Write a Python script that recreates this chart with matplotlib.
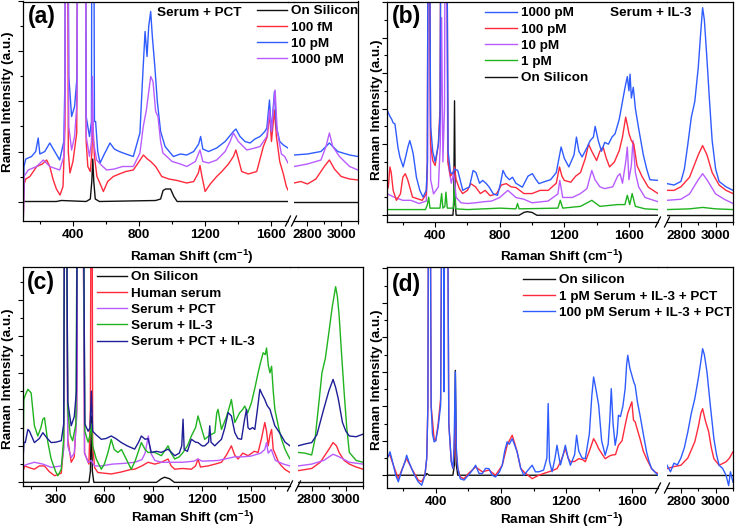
import matplotlib
matplotlib.use('Agg')
import matplotlib.pyplot as plt
from matplotlib.ticker import MultipleLocator, NullFormatter
import numpy as np

plt.rcParams.update({
    'font.family': ['Liberation Sans', 'DejaVu Sans'],
    'font.weight': 'bold',
    'font.size': 9.7,
    'axes.labelweight': 'bold',
    'mathtext.fontset': 'custom',
    'mathtext.rm': 'Liberation Sans:bold',
    'mathtext.bf': 'Liberation Sans:bold',
    'mathtext.default': 'bf',
})

W, H = 736, 529

# colours
C_BLACK = '#111111'
C_RED = '#ff2a3c'
C_BLUE = '#2f5cff'
C_PURPLE = '#b85cff'
C_GREEN = '#1fb31f'
C_NAVY = '#1e1e96'

# ---------------- panel (a): Serum + PCT ----------------
a_black_x = [100, 300, 330, 480, 505, 514, 520, 526, 535, 560, 900, 930, 945, 960, 990, 1010, 1030, 1700,
             2720, 3100]
a_black_y = [0.0, 0.0, 0.02, 0.0, 0.05, 0.4, 0.85, 0.4, 0.05, 0.0, 0.02, 0.05, 0.22, 0.25, 0.25, 0.1, 0.0, 0.0,
             0.0, 0.0]

a_red_x = [100, 105, 115, 140, 181, 215, 241, 260, 281, 300, 322, 340, 352, 358, 366, 372, 382, 400, 423, 432,
           472, 480, 490, 505, 515, 520, 530, 545, 565, 584, 610, 644, 680, 720, 765, 800, 826, 850, 870, 900,
           937, 980, 1030, 1088, 1130, 1158, 1168, 1180, 1199, 1230, 1269, 1300, 1340, 1370, 1385, 1400, 1420,
           1460, 1511, 1535, 1551, 1575, 1588, 1600, 1618, 1630, 1650, 1672, 1690, 1700,
           2720, 2760, 2800, 2850, 2900, 2930, 2960, 3000, 3050, 3100]
a_red_y = [-0.35, 0.35, 0.45, 0.5, 0.7, 0.75, 0.83, 0.7, 0.43, 0.25, 0.13, 0.3, 1.5, 9, 9, 1.0, 0.57, 0.8, 1.37, 9,
           9, 1.2, 0.7, 0.6, 1.0, 1.6, 0.9, 0.5, 0.35, 0.2, 0.4, 0.5, 0.55, 0.6, 0.63, 0.8, 0.93, 0.85, 0.8, 0.7,
           0.5, 0.45, 0.42, 0.37, 0.4, 0.57, 0.72, 0.5, 0.2, 0.35, 0.5, 0.6, 0.75, 0.9, 1.03, 0.85, 0.6,
           0.55, 0.6, 0.9, 1.1, 1.3, 1.77, 1.2, 1.83, 1.3, 0.8, 0.55, 0.3, 0.23,
           0.37, 0.4, 0.35, 0.45, 0.7, 0.83, 0.65, 0.5, 0.45, 0.43]

a_blue_x = [100, 104, 115, 150, 175, 190, 200, 230, 260, 290, 320, 345, 352, 358, 366, 375, 392, 410, 425, 432,
            472, 480, 500, 512, 516, 524, 530, 537, 550, 564, 590, 624, 650, 680, 720, 765, 805, 820, 836, 848,
            858, 870, 880, 895, 910, 930, 957, 1007, 1050, 1088, 1130, 1160, 1172, 1185, 1220, 1269, 1320, 1370,
            1385, 1410, 1440, 1471, 1500, 1531, 1560, 1572, 1588, 1600, 1618, 1630, 1650, 1672, 1700,
            2720, 2800, 2880, 2930, 2980, 3050, 3100]
a_blue_y = [-0.35, 0.7, 0.85, 0.9, 1.0, 1.27, 0.95, 1.0, 1.17, 1.0, 0.83, 1.2, 2.5, 9, 9, 2.5, 1.7, 1.9, 2.5, 9,
            9, 1.7, 1.3, 1.6, 9, 9, 1.6, 1.6, 1.0, 0.77, 0.95, 1.17, 1.05, 1.0, 0.95, 0.9, 1.37, 2.4, 3.4, 2.9,
            3.5, 3.8, 3.3, 2.7, 2.0, 1.4, 1.1, 0.9, 0.95, 0.93, 1.0, 1.15, 1.3, 1.05, 1.0, 1.07, 1.2, 1.4,
            1.45, 1.3, 1.2, 1.17, 1.25, 1.3, 1.4, 1.47, 2.03, 1.4, 2.2, 1.5, 1.2, 1.13, 1.07,
            0.93, 0.95, 1.0, 1.17, 1.0, 0.93, 0.9]

a_purple_x = [100, 104, 130, 180, 221, 260, 320, 345, 352, 358, 366, 375, 392, 410, 425, 432, 472, 480, 500,
              512, 518, 524, 543, 580, 604, 650, 700, 765, 805, 825, 844, 870, 884, 900, 914, 930, 944, 1000,
              1050, 1088, 1140, 1168, 1185, 1220, 1269, 1320, 1350, 1370, 1400, 1451, 1500, 1531, 1572, 1588,
              1600, 1622, 1635, 1660, 1680, 1700,
              2720, 2800, 2880, 2910, 2930, 2950, 2990, 3050, 3100]
a_purple_y = [-0.35, 0.5, 0.63, 0.7, 0.83, 0.7, 0.63, 0.9, 2.0, 9, 9, 1.5, 1.03, 1.3, 2.0, 9, 9, 1.3, 0.9,
              1.2, 2.5, 1.2, 0.83, 0.7, 0.63, 0.65, 0.7, 0.7, 0.97, 1.5, 1.83, 2.5, 2.4, 1.8, 1.7, 1.2, 0.97, 0.8,
              0.75, 0.7, 0.8, 1.03, 0.8, 0.77, 0.83, 1.0, 1.2, 1.37, 1.2, 1.03, 1.07, 1.1, 1.3, 1.83,
              1.4, 2.23, 1.4, 0.95, 0.9, 0.77,
              0.7, 0.75, 0.83, 1.1, 1.37, 1.1, 0.9, 0.7, 0.63]

# ---------------- panel (b): Serum + IL-3 ----------------
b_black_x = [100, 510, 515, 520, 525, 530, 920, 950, 970, 1000, 1030, 1780, 2720, 3100]
b_black_y = [0, 0, 0.3, 3.22, 0.3, 0, 0, 0.08, 0.1, 0.08, 0, 0, 0, 0]

b_green_x = [100, 340, 352, 360, 368, 430, 440, 448, 460, 467, 475, 512, 520, 528, 600, 800, 900, 910, 920, 1160,
             1175, 1190, 1300, 1370, 1420, 1530, 1575, 1590, 1605, 1620, 1640, 1700, 1780,
             2720, 2850, 2925, 3000, 3100]
b_green_y = [0.16, 0.16, 0.3, 0.51, 0.2, 0.2, 0.61, 0.2, 0.25, 0.65, 0.2, 0.2, 1.0, 0.18, 0.16, 0.2, 0.18, 0.33,
             0.18, 0.2, 0.42, 0.2, 0.25, 0.42, 0.25, 0.3, 0.3, 0.56, 0.3, 0.61, 0.25, 0.18, 0.16,
             0.16, 0.18, 0.22, 0.18, 0.16]

b_purple_x = [100, 150, 200, 250, 300, 345, 352, 356, 364, 372, 390, 420, 432, 440, 448, 458, 462, 470, 478, 500,
              515, 530, 560, 600, 650, 700, 750, 800, 850, 900, 950, 1000, 1100, 1160, 1172, 1190, 1250, 1300,
              1340, 1370, 1390, 1420, 1450, 1500, 1530, 1545, 1560, 1580, 1590, 1600, 1615, 1625, 1640, 1660,
              1700, 1780,
              2720, 2800, 2850, 2900, 2925, 2950, 3000, 3050, 3100]
b_purple_y = [0.61, 0.5, 0.42, 0.42, 0.33, 0.4, 1.2, 9, 9, 1.0, 0.6, 0.8, 2.0, 5.56, 1.5, 3.0, 9, 9, 1.5, 0.9,
              1.2, 0.5, 0.35, 0.33, 0.35, 0.38, 0.4, 0.5, 0.7, 0.5, 0.45, 0.35, 0.4, 0.6, 0.98, 0.5, 0.5, 0.61,
              0.75, 1.26, 1.0, 0.8, 0.75, 0.8, 1.1, 1.17, 0.9, 1.5, 1.92, 1.0, 1.4, 2.1, 1.2, 0.8,
              0.5, 0.38,
              0.42, 0.45, 0.6, 1.0, 1.17, 1.0, 0.6, 0.45, 0.33]

b_red_x = [100, 110, 120, 128, 140, 160, 185, 200, 215, 230, 260, 300, 320, 345, 352, 356, 364, 372, 385, 400,
           420, 430, 436, 472, 480, 495, 510, 520, 530, 550, 570, 600, 620, 650, 680, 710, 740, 780, 810, 840,
           870, 900, 950, 1000, 1050, 1100, 1150, 1170, 1185, 1200, 1240, 1270, 1300, 1330, 1350, 1370, 1400,
           1420, 1440, 1460, 1480, 1510, 1540, 1560, 1580, 1592, 1600, 1615, 1630, 1650, 1680, 1720, 1780,
           2720, 2760, 2800, 2850, 2900, 2925, 2950, 2980, 3020, 3060, 3100]
b_red_y = [0.7, 0.79, 1.36, 1.2, 0.7, 0.42, 0.6, 1.07, 1.17, 1.0, 0.51, 0.45, 0.42, 0.6, 1.5, 9, 9, 2.0, 1.54, 1.4,
           2.0, 3.0, 9, 9, 1.5, 1.1, 1.2, 1.36, 1.0, 0.75, 0.61, 0.7, 0.89, 0.8, 0.61, 0.7, 0.55, 0.6, 0.85, 0.89,
           0.8, 0.78, 0.61, 0.61, 0.7, 0.7, 0.9, 1.36, 1.1, 0.98, 0.93, 1.1, 1.2, 1.6, 2.0, 1.8, 1.54,
           1.8, 1.92, 1.6, 1.36, 1.5, 1.82, 2.2, 2.76, 2.5, 2.3, 2.1, 2.0, 1.4, 1.1, 0.79, 0.61,
           0.7, 0.7, 0.8, 1.07, 1.7, 1.96, 1.7, 1.2, 0.85, 0.7, 0.61]

b_blue_x = [100, 105, 118, 131, 140, 151, 170, 182, 202, 215, 233, 243, 255, 264, 284, 305, 325, 345, 352, 356,
            364, 372, 385, 400, 420, 430, 436, 472, 480, 495, 510, 520, 540, 560, 571, 590, 612, 635, 653, 675,
            694, 715, 735, 760, 786, 805, 820, 838, 860, 879, 900, 940, 975, 1002, 1025, 1043, 1080, 1115, 1150,
            1180, 1200, 1228, 1260, 1275, 1290, 1310, 1340, 1360, 1380, 1391, 1410, 1430, 1450, 1473, 1495,
            1514, 1540, 1560, 1576, 1590, 1600, 1607, 1615, 1627, 1640, 1658, 1689, 1710, 1730, 1780,
            2720, 2760, 2800, 2820, 2840, 2860, 2880, 2900, 2915, 2925, 2935, 2950, 2965, 2980, 3000, 3020,
            3060, 3100]
b_blue_y = [2.5, 2.94, 2.8, 2.7, 2.6, 2.57, 1.9, 1.63, 1.36, 1.6, 1.95, 2.1, 1.9, 1.73, 1.07, 0.7, 0.51, 0.7, 1.5, 9,
            9, 2.5, 1.8, 1.5, 2.0, 2.76, 9, 9, 1.8, 1.2, 1.17, 1.3, 1.26, 0.9, 0.7, 0.75, 0.79, 1.26, 1.2, 0.9,
            0.98, 0.9, 0.79, 0.6, 0.56, 0.9, 1.26, 1.1, 1.0, 1.07, 0.9, 0.79, 1.1, 1.17, 1.0, 0.89, 0.95, 1.0, 1.2,
            1.92, 1.6, 1.36, 1.7, 2.2, 1.8, 1.64, 1.9, 2.1, 2.2, 2.5, 2.1, 1.8, 2.05, 2.0, 2.2,
            2.29, 2.7, 3.2, 3.6, 3.9, 3.5, 3.97, 3.3, 3.6, 3.0, 2.5, 1.7, 1.3, 1.0, 0.98,
            0.89, 0.85, 0.95, 1.3, 2.0, 2.76, 3.2, 4.16, 5.2, 5.84, 5.5, 4.4, 3.2, 2.1, 1.3, 0.95,
            0.8, 0.7]

# ---------------- panel (c): comparison ----------------
c_black_x = [100, 505, 514, 520, 526, 535, 920, 950, 970, 1000, 1030, 1740, 2720, 3100]
c_black_y = [0, 0, 0.3, 1.82, 0.3, 0, 0, 0.1, 0.14, 0.1, 0, 0, 0, 0]

c_red_x = [100, 110, 140, 170, 200, 232, 260, 294, 335, 350, 356, 366, 375, 396, 415, 430, 436, 468, 478, 505,
           514, 518, 524, 528, 540, 560, 600, 642, 700, 760, 786, 830, 868, 910, 950, 991, 1010, 1032, 1080,
           1134, 1160, 1175, 1190, 1237, 1280, 1319, 1350, 1380, 1400, 1421, 1450, 1483, 1520, 1544, 1565,
           1585, 1596, 1606, 1617, 1627, 1637, 1647, 1670, 1688, 1710, 1740,
           2720, 2800, 2850, 2900, 2925, 2945, 2960, 2990, 3020, 3060, 3100]
c_red_y = [0.3, 0.45, 0.4, 0.36, 0.45, 0.45, 0.3, 0.18, 0.25, 1.0, 9, 9, 1.2, 0.55, 0.7, 2.0, 9, 9, 0.8, 0.5,
           2.0, 9, 9, 1.0, 0.4, 0.27, 0.25, 0.23, 0.28, 0.35, 0.36, 0.45, 0.55, 0.5, 0.55, 0.64, 0.45, 0.36, 0.38,
           0.36, 0.45, 0.64, 0.42, 0.45, 0.5, 0.55, 0.75, 1.0, 0.75, 0.64, 0.8, 0.73, 0.85, 0.82, 1.2,
           1.64, 1.4, 1.0, 1.3, 1.45, 0.9, 0.8, 0.55, 0.45, 0.35, 0.27,
           0.32, 0.38, 0.55, 0.9, 1.09, 1.0, 0.82, 0.6, 0.5, 0.42, 0.36]

c_purple_x = [100, 130, 170, 222, 273, 335, 350, 356, 366, 375, 396, 415, 430, 436, 468, 478, 500, 520, 540, 581,
              650, 720, 786, 830, 850, 870, 885, 910, 950, 1000, 1080, 1150, 1175, 1200, 1300, 1401, 1450, 1500,
              1560, 1585, 1596, 1606, 1625, 1650, 1700, 1740,
              2720, 2800, 2870, 2925, 2960, 3020, 3100]
c_purple_y = [0.45, 0.5, 0.55, 0.5, 0.41, 0.45, 0.9, 9, 9, 1.0, 0.68, 0.8, 1.8, 9, 9, 0.8, 0.55, 0.6, 0.45, 0.45,
              0.5, 0.52, 0.55, 0.62, 0.8, 1.27, 0.8, 0.6, 0.55, 0.55, 0.55, 0.58, 0.64, 0.58, 0.6, 0.7, 0.7, 0.72,
              0.8, 0.9, 1.09, 0.8, 0.9, 0.6, 0.5, 0.45,
              0.45, 0.5, 0.6, 0.77, 0.7, 0.55, 0.5]

c_green_x = [100, 105, 115, 130, 150, 170, 191, 210, 222, 232, 253, 273, 300, 314, 335, 350, 356, 366, 375, 390,
             405, 425, 434, 470, 480, 500, 512, 520, 528, 550, 581, 600, 622, 642, 660, 683, 705, 724, 765, 790,
             827, 850, 868, 909, 950, 991, 1010, 1032, 1060, 1083, 1110, 1134, 1160, 1175, 1195, 1216, 1250,
             1278, 1290, 1298, 1319, 1350, 1370, 1380, 1401, 1430, 1450, 1462, 1480, 1503, 1525, 1544, 1560,
             1575, 1588, 1596, 1607, 1617, 1627, 1637, 1647, 1670, 1688, 1710, 1729, 1740,
             2720, 2760, 2800, 2820, 2840, 2860, 2880, 2900, 2920, 2940, 2950, 2960, 2975, 2990, 3005, 3020,
             3060, 3100]
c_green_y = [0.6, 2.27, 2.4, 2.55, 2.45, 1.55, 1.27, 1.5, 1.73, 1.77, 1.09, 0.64, 0.3, 0.18, 0.36, 1.2, 9, 9, 2.0,
             1.3, 1.14, 1.6, 9, 9, 1.4, 1.1, 1.3, 1.6, 1.0, 0.64, 0.36, 0.5, 0.82, 1.18, 0.9, 0.82, 0.9, 0.73, 0.36,
             0.6, 1.09, 0.9, 0.82, 0.82, 0.73, 1.0, 0.8, 0.64, 0.7, 0.82, 1.0, 1.27, 1.5, 1.82, 1.5, 1.18, 1.3,
             1.36, 1.9, 2.0, 1.45, 1.8, 2.1, 2.27, 1.64, 1.9, 2.0, 2.09, 1.9, 2.18, 2.6, 3.0, 3.3,
             3.55, 3.5, 3.68, 3.2, 3.0, 3.18, 2.5, 2.0, 1.5, 1.18, 0.9, 0.73, 0.64,
             0.82, 0.8, 0.75, 1.2, 2.09, 3.0, 3.4, 4.09, 4.8, 5.36, 5.1, 4.6, 3.5, 2.45, 1.5, 0.82,
             0.6, 0.55]

c_navy_x = [100, 106, 114, 130, 140, 170, 200, 222, 250, 273, 300, 335, 350, 356, 366, 375, 396, 415, 428, 434,
            470, 480, 500, 512, 520, 528, 550, 581, 610, 642, 670, 704, 740, 786, 810, 827, 850, 868, 888, 920,
            950, 991, 1032, 1060, 1075, 1083, 1090, 1110, 1134, 1160, 1175, 1200, 1216, 1240, 1247, 1255, 1278,
            1300, 1319, 1340, 1360, 1380, 1401, 1420, 1442, 1460, 1473, 1482, 1493, 1510, 1524, 1540, 1555,
            1570, 1585, 1600, 1617, 1630, 1647, 1670, 1688, 1710, 1740,
            2720, 2760, 2800, 2830, 2870, 2900, 2925, 2940, 2955, 2980, 3000, 3020, 3060, 3100]
c_navy_y = [0.6, 1.1, 1.09, 1.45, 1.4, 1.09, 1.2, 1.36, 1.2, 1.09, 1.1, 1.14, 1.6, 9, 9, 2.2, 1.55, 1.8, 2.5, 9,
            9, 1.6, 1.4, 1.5, 2.5, 1.4, 1.3, 1.18, 1.2, 1.27, 1.2, 1.09, 1.0, 0.91, 1.1, 1.27, 1.18, 1.2, 0.82, 0.85,
            0.82, 0.91, 0.73, 0.8, 1.0, 1.73, 0.9, 0.85, 1.18, 1.1, 1.09, 1.0, 1.0, 1.1, 1.55, 1.1, 1.0,
            1.1, 1.18, 1.5, 1.91, 1.82, 1.36, 1.2, 1.18, 1.7, 2.0, 1.5, 1.45, 1.5, 1.45, 2.0, 2.55,
            2.4, 2.27, 2.1, 2.0, 1.8, 1.55, 1.4, 1.27, 1.1, 1.0,
            1.0, 1.05, 1.09, 1.3, 2.0, 2.5, 2.82, 2.6, 2.3, 1.64, 1.4, 1.27, 1.25, 1.32]

# ---------------- panel (d): Serum + IL-3 + PCT ----------------
d_black_x = [100, 340, 345, 360, 505, 514, 520, 526, 535, 1760, 2720, 3100]
d_black_y = [0, 0, 0.05, 0, 0, 0.3, 3.04, 0.3, 0, 0, 0, 0]

d_red_x = [100, 110, 120, 141, 171, 212, 222, 253, 293, 314, 334, 345, 352, 356, 366, 372, 390, 400, 415, 430,
           438, 472, 480, 495, 505, 512, 520, 526, 535, 550, 573, 600, 644, 685, 726, 766, 807, 837, 850, 868,
           885, 898, 920, 939, 965, 990, 1010, 1031, 1060, 1092, 1120, 1142, 1165, 1180, 1193, 1210, 1224, 1250,
           1275, 1300, 1315, 1340, 1366, 1380, 1397, 1420, 1437, 1460, 1474, 1500, 1518, 1540, 1559, 1575,
           1590, 1600, 1610, 1620, 1635, 1650, 1670, 1690, 1721, 1740, 1760,
           2720, 2760, 2800, 2840, 2880, 2900, 2915, 2925, 2940, 2960, 2975, 2990, 3020, 3060, 3080, 3100]
d_red_y = [0.48, 0.58, 0.58, 0.29, -0.1, 0.39, 0.48, 0.19, -0.14, -0.19, 0.0, 0.5, 2.0, 9, 9, 2.0, 1.06, 1.0, 1.5,
           2.22, 9, 9, 1.5, 0.4, 0.2, 0.6, 1.64, 0.6, 0.2, -0.05, -0.1, 0.05, 0.24, 0.1, 0.15, 0.0, 0.29, 0.87,
           1.0, 1.16, 0.9, 0.68, 0.2, 0.1, 0.0, -0.1, -0.05, 0.0, 0.05, 0.1, 0.15, 0.19, 0.4, 0.6, 0.77, 0.5,
           0.39, 0.4, 0.48, 0.45, 0.39, 0.7, 1.06, 0.95, 0.77, 0.6, 0.48, 0.55, 0.58, 0.6, 0.87, 1.0, 1.45,
           1.8, 2.0, 2.13, 1.6, 1.55, 1.3, 1.06, 0.7, 0.48, 0.19, 0.1, 0.05,
           0.19, 0.25, 0.29, 0.5, 0.97, 1.4, 1.8, 1.93, 1.6, 1.26, 0.8, 0.48, 0.29, 0.39, 0.5, 0.68]

d_blue_x = [100, 110, 120, 130, 141, 155, 171, 190, 212, 222, 235, 253, 270, 293, 314, 334, 345, 352, 356, 366,
            372, 380, 390, 400, 415, 430, 438, 448, 450, 455, 472, 480, 495, 505, 512, 520, 526, 535, 550, 573,
            600, 625, 644, 665, 685, 705, 726, 745, 766, 790, 807, 822, 837, 850, 868, 885, 898, 920, 939, 965,
            990, 1010, 1031, 1060, 1080, 1088, 1096, 1112, 1130, 1142, 1155, 1163, 1180, 1193, 1210, 1224, 1250,
            1262, 1275, 1295, 1315, 1340, 1355, 1366, 1380, 1397, 1415, 1437, 1455, 1465, 1474, 1485, 1498,
            1510, 1518, 1530, 1545, 1559, 1568, 1575, 1588, 1600, 1612, 1620, 1635, 1650, 1670, 1690, 1705,
            1721, 1740, 1760,
            2720, 2740, 2760, 2780, 2800, 2820, 2840, 2860, 2880, 2900, 2915, 2925, 2935, 2950, 2970, 2990,
            3005, 3020, 3040, 3060, 3075, 3085, 3100]
d_blue_y = [0.48, 0.55, 0.68, 0.5, 0.29, 0.0, -0.19, 0.1, 0.39, 0.58, 0.4, 0.19, 0.0, -0.19, -0.29, 0.0, 0.5, 2.0,
            9, 9, 2.0, 1.2, 0.97, 1.0, 1.4, 2.03, 9, 9, 2.42, 9, 9, 1.5, 0.4, 0.2, 0.8, 3.0, 0.8, 0.2, -0.1, -0.14,
            0.0, 0.15, 0.29, 0.05, 0.05, 0.2, 0.19, 0.0, -0.05, 0.1, 0.29, 0.7, 0.97, 0.9, 1.06, 0.85, 0.68, 0.2,
            0.0, 0.15, 0.29, 0.1, 0.1, 0.15, 0.5, 2.08, 0.4, 0.1, 0.5, 0.87, 0.5, 0.3, 0.6, 0.87, 0.5, 0.29, 0.6,
            1.16, 0.7, 0.5, 0.48, 1.2, 2.3, 2.85, 2.5, 2.03, 1.0, 0.58, 0.9, 1.6, 2.51, 1.5, 0.87,
            1.2, 1.74, 1.7, 2.0, 2.51, 3.2, 3.48, 3.1, 2.9, 2.7, 2.61, 2.1, 1.74, 1.2, 0.68, 0.4,
            0.19, 0.1, 0.0,
            0.29, 0.1, 0.35, 0.3, 0.5, 0.8, 1.26, 1.8, 2.22, 2.8, 3.3, 3.67, 3.5, 3.0, 2.0, 1.06,
            0.6, 0.29, 0.2, 0.0, -0.3, 0.1, -0.2]


fig = plt.figure(figsize=(W / 100, H / 100), dpi=100)
fig.patch.set_facecolor('white')


def make_panel(left, lo_end, hi_start, right, top, bottom, lo_max, lo_major, ylim):
    h = (bottom - top) / H
    ax1 = fig.add_axes([left / W, 1 - bottom / H, (lo_end - left) / W, h])
    ax2 = fig.add_axes([hi_start / W, 1 - bottom / H, (right - hi_start) / W, h])
    ax2.patch.set_visible(False)
    ax1.set_xlim(100, lo_max)
    ax2.set_xlim(2720, 3100)
    for ax in (ax1, ax2):
        ax.set_ylim(*ylim)
        for s in ax.spines.values():
            s.set_linewidth(0.9)
        ax.tick_params(which='both', direction='out', width=0.8, labelsize=9.7, pad=2)
        ax.tick_params(which='major', length=3.5)
        ax.tick_params(which='minor', length=2)
    ax1.xaxis.set_major_locator(MultipleLocator(lo_major))
    ax1.xaxis.set_minor_locator(MultipleLocator(lo_major / 2))
    ax2.xaxis.set_major_locator(MultipleLocator(200))
    ax2.xaxis.set_minor_locator(MultipleLocator(100))
    ax1.yaxis.set_major_locator(MultipleLocator(1))
    ax1.yaxis.set_minor_locator(MultipleLocator(0.5))
    ax1.yaxis.set_major_formatter(NullFormatter())
    ax1.spines['right'].set_visible(False)
    ax2.spines['left'].set_visible(False)
    ax2.tick_params(axis='y', which='both', left=False, labelleft=False)
    w1 = lo_end - left
    w2 = right - hi_start
    hp = bottom - top
    kw = dict(color='k', lw=0.9, clip_on=False)
    # top frame carried over the gap
    ax1.plot([1, (hi_start - left) / w1], [1, 1], transform=ax1.transAxes, **kw)
    # break marks
    ax1.plot([1 - 2.5 / w1, 1 + 2.5 / w1], [-5 / hp, 5 / hp], transform=ax1.transAxes, **kw)
    ax2.plot([-2.5 / w2, 2.5 / w2], [-5 / hp, 5 / hp], transform=ax2.transAxes, **kw)
    return ax1, ax2


def draw(axes, xs, ys, color, label):
    xs = np.asarray(xs, float)
    ys = np.asarray(ys, float)
    lo = xs < 2000
    line, = axes[0].plot(xs[lo], ys[lo], color=color, lw=1.0, label=label)
    axes[1].plot(xs[~lo], ys[~lo], color=color, lw=1.0)
    return line


def labels(axes, left, top, bottom, lo_end, ylab_x, ylab_y, xlab_x, xlab_y):
    ax1 = axes[0]
    w = lo_end - left
    hp = bottom - top
    ax1.set_ylabel('Raman Intensity (a.u.)', fontsize=9.7, va='center')
    ax1.yaxis.set_label_coords((ylab_x - left) / w, (bottom - ylab_y) / hp)
    ax1.set_xlabel('Raman Shift (cm$^{-1}$)', fontsize=9.7, va='center')
    ax1.xaxis.set_label_coords((xlab_x - left) / w, (bottom - xlab_y) / hp)


def legend(ax, handles, x_px, y_px, hl):
    ax.legend(handles=handles, loc='upper left', bbox_to_anchor=(x_px / W, 1 - y_px / H),
              bbox_transform=fig.transFigure, frameon=False, borderpad=0, borderaxespad=0,
              handlelength=hl, handletextpad=0.3, labelspacing=0.28,
              prop={'weight': 'bold', 'size': 9.7})


# panel a
pa = make_panel(23.3, 288, 294, 358, 1.5, 221, 1700, 400, (-0.39, 4.0))
ha = [draw(pa, a_black_x, a_black_y, C_BLACK, 'On Silicon'),
      draw(pa, a_red_x, a_red_y, C_RED, '100 fM'),
      draw(pa, a_blue_x, a_blue_y, C_BLUE, '10 pM'),
      draw(pa, a_purple_x, a_purple_y, C_PURPLE, '1000 pM')]
legend(pa[1], ha, 257, 5, 2.2)
labels(pa, 23.3, 1.5, 221, 288, 8, 102, 192, 257)
fig.text(28 / W, 1 - 17 / H, '(a)', fontsize=16.5, fontweight='bold', va='center', ha='left')
fig.text(157 / W, 1 - 13 / H, 'Serum + PCT', fontsize=9.7, fontweight='bold', va='center', ha='left')

# panel b
pb = make_panel(386.7, 658, 667, 733, 2, 222, 1780, 400, (-0.19, 6.0))
hb = [draw(pb, b_black_x, b_black_y, C_BLACK, 'On Silicon'),
      draw(pb, b_green_x, b_green_y, C_GREEN, '1 pM'),
      draw(pb, b_purple_x, b_purple_y, C_PURPLE, '10 pM'),
      draw(pb, b_red_x, b_red_y, C_RED, '100 pM'),
      draw(pb, b_blue_x, b_blue_y, C_BLUE, '1000 pM')]
legend(pb[1], hb[::-1], 485, 7, 2.4)
labels(pb, 386.7, 2, 222, 658, 377, 110, 562, 257)
fig.text(392 / W, 1 - 16 / H, '(b)', fontsize=16.5, fontweight='bold', va='center', ha='left')
fig.text(610 / W, 1 - 13 / H, 'Serum + IL-3', fontsize=9.7, fontweight='bold', va='center', ha='left')

# panel c
pc = make_panel(23, 290, 298, 363, 267, 486, 1740, 300, (-0.1, 5.9))
hc = [draw(pc, c_black_x, c_black_y, C_BLACK, 'On Silicon'),
      draw(pc, c_red_x, c_red_y, C_RED, 'Human serum'),
      draw(pc, c_purple_x, c_purple_y, C_PURPLE, 'Serum + PCT'),
      draw(pc, c_green_x, c_green_y, C_GREEN, 'Serum + IL-3'),
      draw(pc, c_navy_x, c_navy_y, C_NAVY, 'Serum + PCT + IL-3')]
legend(pc[1], hc, 97, 271, 2.2)
labels(pc, 23, 267, 486, 290, 8, 379, 193, 518)
fig.text(27 / W, 1 - 283 / H, '(c)', fontsize=16.5, fontweight='bold', va='center', ha='left')

# panel d
pd_ = make_panel(386.7, 658, 667, 733, 267, 488, 1760, 400, (-0.37, 6.04))
hd = [draw(pd_, d_black_x, d_black_y, C_BLACK, 'On silicon'),
      draw(pd_, d_red_x, d_red_y, C_RED, '1 pM Serum + IL-3 + PCT'),
      draw(pd_, d_blue_x, d_blue_y, C_BLUE, '100 pM Serum + IL-3 + PCT')]
legend(pd_[1], hd, 523, 274, 2.4)
labels(pd_, 386.7, 267, 488, 658, 377, 380, 562, 520)
fig.text(392 / W, 1 - 284 / H, '(d)', fontsize=16.5, fontweight='bold', va='center', ha='left')

fig.savefig('out.png', dpi=100)
